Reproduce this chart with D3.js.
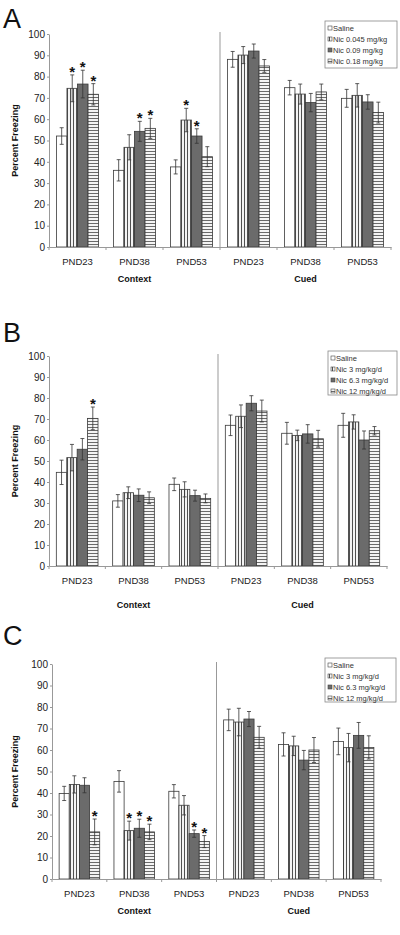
<!DOCTYPE html>
<html><head><meta charset="utf-8">
<script src="https://cdn.jsdelivr.net/npm/d3@7"></script>
<style>body{margin:0;background:#fff}svg{display:block}</style>
</head><body><svg id="c" width="400" height="935"></svg>
<script>
// ---------- data ----------
const categories = ["PND23","PND38","PND53","PND23","PND38","PND53"];
const groupNames = ["Context","Cued"];
const yTicks = [0,10,20,30,40,50,60,70,80,90,100];
const legendA = ["Saline","Nic 0.045 mg/kg","Nic 0.09 mg/kg","Nic 0.18 mg/kg"];
const legendBC = ["Saline","Nic 3 mg/kg/d","Nic 6.3 mg/kg/d","Nic 12 mg/kg/d"];

// Panel A
const A_saline = [52.1,36.0,37.6,88.1,74.8,69.8];
const A_nicLow = [74.5,46.8,59.6,90.1,71.8,71.2];
const A_nicMid = [76.5,54.3,52.1,92.0,67.8,68.1];
const A_nicHigh = [71.7,55.7,42.4,85.0,72.8,63.1];
const A_errSaline = [3.9,5.0,3.3,3.7,3.4,4.2];
const A_errLow = [6.3,5.9,5.5,4.0,4.7,5.5];
const A_errMid = [6.5,4.7,3.4,3.3,4.3,3.4];
const A_errHigh = [5.0,4.7,4.7,3.0,3.7,4.9];
const A_stars = [[0,1],[0,2],[0,3],[1,2],[1,3],[2,1],[2,2]];

// Panel B
const B_saline = [44.6,31.0,38.9,67.0,63.2,67.0];
const B_nicLow = [51.6,34.9,36.5,71.3,62.2,68.6];
const B_nicMid = [55.6,33.7,33.5,77.5,62.9,60.0];
const B_nicHigh = [70.3,32.5,32.2,73.8,60.6,64.4];
const B_errSaline = [5.8,3.0,3.0,4.9,5.2,5.7];
const B_errLow = [6.3,2.8,3.6,5.4,2.5,3.4];
const B_errMid = [5.1,3.0,2.6,3.6,4.4,4.3];
const B_errHigh = [5.4,2.8,2.1,5.2,4.0,2.0];
const B_stars = [[0,3]];

// Panel C
const C_saline = [39.8,45.4,40.8,74.0,62.6,64.0];
const C_nicLow = [44.0,22.5,34.3,73.0,61.9,61.1];
const C_nicMid = [43.6,23.6,21.1,74.4,55.3,66.8];
const C_nicHigh = [21.9,21.9,17.4,65.9,60.0,61.2];
const C_errSaline = [3.3,5.0,3.1,5.0,5.4,6.2];
const C_errLow = [4.0,4.4,4.5,6.4,4.5,6.6];
const C_errMid = [3.5,4.2,1.7,3.5,4.5,6.0];
const C_errHigh = [6.0,3.6,2.8,5.1,5.8,5.4];
const C_stars = [[0,3],[1,1],[1,2],[1,3],[2,2],[2,3]];

// ---------- layout ----------
const layouts = [
  {letter:"A", left:49, right:391, top:34, bottom:247, letterY:28, groupY:282,
   legend:{x:325,y:21,w:72,h:47}, labels:legendA,
   series:[A_saline,A_nicLow,A_nicMid,A_nicHigh], errs:[A_errSaline,A_errLow,A_errMid,A_errHigh], stars:A_stars},
  {letter:"B", left:49, right:387, top:356, bottom:566, letterY:342, groupY:608,
   legend:{x:328,y:351,w:69,h:44}, labels:legendBC,
   series:[B_saline,B_nicLow,B_nicMid,B_nicHigh], errs:[B_errSaline,B_errLow,B_errMid,B_errHigh], stars:B_stars},
  {letter:"C", left:52, right:381, top:664, bottom:879, letterY:645, groupY:914,
   legend:{x:325,y:658,w:71,h:44}, labels:legendBC,
   series:[C_saline,C_nicLow,C_nicMid,C_nicHigh], errs:[C_errSaline,C_errLow,C_errMid,C_errHigh], stars:C_stars}
];

const FONT = "'Liberation Sans', Arial, sans-serif";
const svg = d3.select("#c");
const defs = svg.append("defs");
const vp = defs.append("pattern").attr("id","vstripe").attr("patternUnits","userSpaceOnUse").attr("width",3).attr("height",3);
vp.append("rect").attr("width",3).attr("height",3).attr("fill","#f4f4f4");
vp.append("rect").attr("x",1).attr("width",1).attr("height",3).attr("fill","#505050");
const hp = defs.append("pattern").attr("id","hstripe").attr("patternUnits","userSpaceOnUse").attr("width",3).attr("height",3);
hp.append("rect").attr("width",3).attr("height",3).attr("fill","#f4f4f4");
hp.append("rect").attr("y",1).attr("width",3).attr("height",1).attr("fill","#6a6a6a");
const fills = ["#ffffff","url(#vstripe)","#6b6b6b","url(#hstripe)"];

layouts.forEach(L => {
  const g = svg.append("g").attr("font-family", FONT);
  const x0 = d3.scaleBand().domain(d3.range(categories.length)).range([L.left, L.right]);
  const groupW = x0.bandwidth()*0.74;
  const x1 = d3.scaleBand().domain(d3.range(4)).range([0, groupW]);
  const off = (x0.bandwidth()-groupW)/2;
  const y = d3.scaleLinear().domain([0,100]).range([L.bottom, L.top]);

  // letter
  g.append("text").attr("x",3).attr("y",L.letterY).attr("font-size",27).attr("fill","#111").text(L.letter);

  // divider
  g.append("line").attr("x1",x0(3)).attr("x2",x0(3)).attr("y1",y(100)-2).attr("y2",y(0))
    .attr("stroke","#999").attr("stroke-width",1);

  // y axis
  const ya = g.append("g").attr("transform",`translate(${L.left},0)`)
    .call(d3.axisLeft(y).tickValues(yTicks).tickSize(2).tickPadding(2).tickSizeOuter(0));
  ya.select(".domain").attr("stroke","#999");
  ya.selectAll(".tick line").attr("stroke","#999");
  ya.selectAll("text").attr("font-size",10).attr("fill","#222").attr("font-family",FONT);

  // y title
  g.append("text").attr("transform",`translate(18,${(L.top+L.bottom)/2}) rotate(-90)`)
    .attr("text-anchor","middle").attr("font-size",9).attr("font-weight","bold").attr("fill","#111")
    .text("Percent Freezing");

  // bars
  L.series.forEach((vals, s) => {
    g.append("g").selectAll("rect").data(vals).join("rect")
      .attr("x",(d,i)=>x0(i)+off+x1(s)).attr("width",x1.bandwidth())
      .attr("y",d=>y(d)).attr("height",d=>y(0)-y(d))
      .attr("fill",fills[s]).attr("stroke","#3a3a3a").attr("stroke-width",0.8);
  });
  // error bars
  L.series.forEach((vals, s) => {
    const eg = g.append("g").attr("stroke","#333").attr("stroke-width",0.8);
    vals.forEach((v,i) => {
      const cx = x0(i)+off+x1(s)+x1.bandwidth()/2;
      const e = L.errs[s][i];
      eg.append("line").attr("x1",cx).attr("x2",cx).attr("y1",y(v+e)).attr("y2",y(v-e));
      eg.append("line").attr("x1",cx-2).attr("x2",cx+2).attr("y1",y(v+e)).attr("y2",y(v+e));
      eg.append("line").attr("x1",cx-2).attr("x2",cx+2).attr("y1",y(v-e)).attr("y2",y(v-e));
    });
  });
  // stars
  g.append("g").selectAll("text").data(L.stars).join("text")
    .attr("x",d=>x0(d[0])+off+x1(d[1])+x1.bandwidth()/2)
    .attr("y",d=>y(L.series[d[1]][d[0]]+L.errs[d[1]][d[0]])+2)
    .attr("text-anchor","middle").attr("font-size",15).attr("font-weight","bold").attr("fill","#111")
    .text("*");

  // x axis
  const xa = g.append("g").attr("transform",`translate(0,${L.bottom})`)
    .call(d3.axisBottom(x0).tickSize(0).tickPadding(11).tickFormat(i=>categories[i]));
  xa.select(".domain").attr("stroke","#999");
  xa.selectAll("text").attr("font-size",9.5).attr("fill","#222").attr("font-family",FONT);
  g.append("g").selectAll("line").data(d3.range(categories.length+1)).join("line")
    .attr("x1",i=>L.left+i*x0.step()).attr("x2",i=>L.left+i*x0.step())
    .attr("y1",L.bottom).attr("y2",L.bottom+3).attr("stroke","#999");

  // group labels
  g.append("g").selectAll("text").data(groupNames).join("text")
    .attr("x",(d,i)=>x0(i*3+1)+x0.bandwidth()/2).attr("y",L.groupY)
    .attr("text-anchor","middle").attr("font-size",9).attr("font-weight","bold").attr("fill","#111")
    .text(d=>d);

  // legend
  const lg = g.append("g").attr("transform",`translate(${L.legend.x},${L.legend.y})`);
  lg.append("rect").attr("width",L.legend.w).attr("height",L.legend.h).attr("fill","#fff").attr("stroke","#888").attr("stroke-width",0.8);
  L.labels.forEach((lab,k) => {
    const cy = 7 + k*11;
    lg.append("rect").attr("x",3).attr("y",cy-2).attr("width",4).attr("height",4)
      .attr("fill",fills[k]).attr("stroke","#444").attr("stroke-width",0.6);
    lg.append("text").attr("x",8).attr("y",cy+2.7).attr("font-size",7.5).attr("fill","#333").text(lab);
  });
});
</script></body></html>
